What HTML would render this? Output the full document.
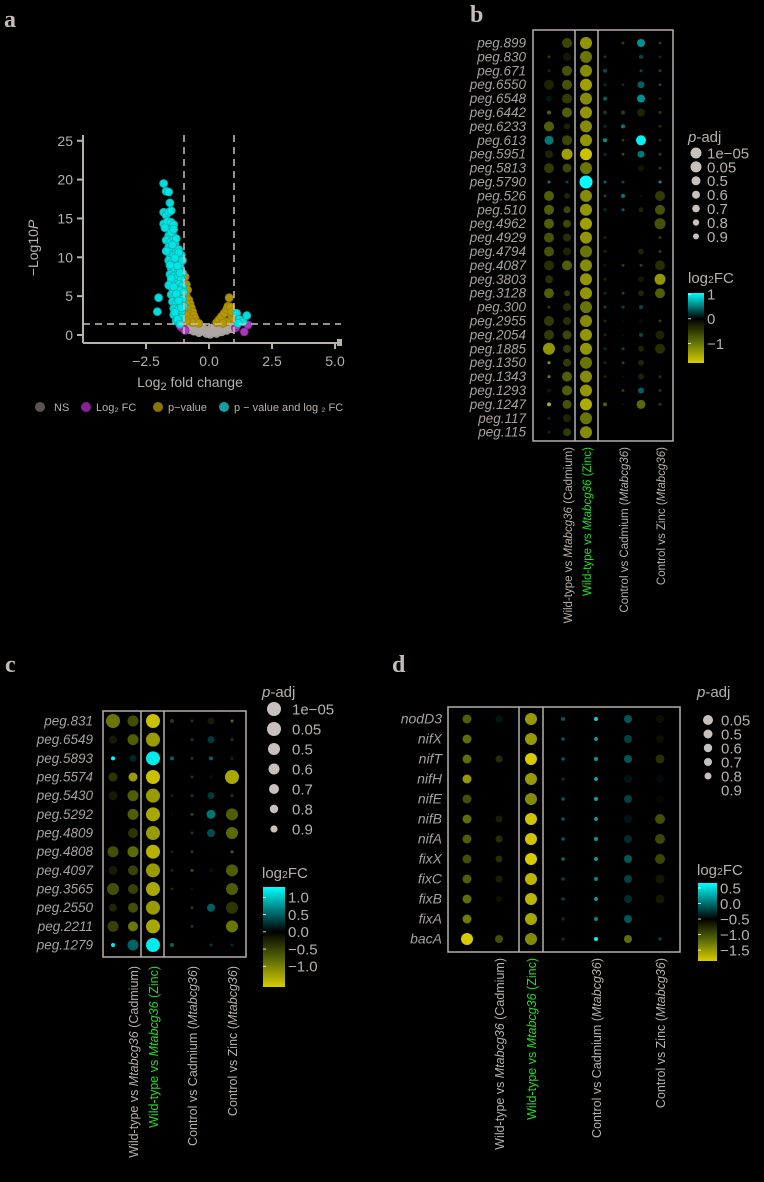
<!DOCTYPE html>
<html><head><meta charset="utf-8">
<style>
html,body{margin:0;padding:0;background:#000;}
svg{display:block;font-family:"Liberation Sans",sans-serif;}
</style></head>
<body>
<svg id="fig" width="764" height="1182" viewBox="0 0 764 1182" xmlns="http://www.w3.org/2000/svg">
<rect x="0" y="0" width="764" height="1182" fill="#000"/>
<text x="4" y="27" font-family="Liberation Serif,serif" font-weight="bold" font-size="24" fill="#c4bcb8">a</text>
<text x="470" y="22" font-family="Liberation Serif,serif" font-weight="bold" font-size="24" fill="#c4bcb8">b</text>
<text x="5" y="672" font-family="Liberation Serif,serif" font-weight="bold" font-size="24" fill="#c4bcb8">c</text>
<text x="392" y="672" font-family="Liberation Serif,serif" font-weight="bold" font-size="24" fill="#c4bcb8">d</text>
</svg>
<script>
// ---------- Volcano data (panel a) ----------
const volCyanX=[-1.8,-1.7,-1.6,-1.55,-1.8,-1.7,-1.6,-1.5,-1.8,-1.65,-1.5,-1.4,-1.55,-1.75,-1.45,-1.6,-1.7,-1.5,-1.35,-1.6,-1.45,-1.3,-1.55,-1.4,-1.25,-1.6,-1.45,-1.3,-1.15,-1.5,-1.35,-1.2,-1.05,-1.55,-1.4,-1.25,-1.1,-1.5,-1.35,-1.2,-1.05,-1.45,-1.3,-1.15,-1.0,-1.5,-1.35,-1.2,-1.05,-1.45,-1.3,-1.15,-1.0,-1.4,-1.25,-1.1,-1.4,-1.25,-1.1,-1.3,-1.15,-2.0,-2.05,1.1,1.2,1.35,1.5,1.15,-1.6,-1.55,-1.7,-1.4,-1.2,-1.1,-1.05,-1.5,-1.4,-1.3,-1.2,-1.45,-1.35,-1.25,-1.15,-1.5,-1.4,-1.3,-1.2,-1.1,-1.35,-1.25,-1.15];
const volCyanY=[19.5,18.5,18.4,17,15.8,15.4,15.8,16,14.3,14.6,14.5,14.2,13.5,13.8,13,12.8,12.2,12,11.8,11.3,11,10.8,10.3,10.2,10,9.6,9.4,9.2,9,8.6,8.5,8.3,8,7.8,7.6,7.4,7.2,6.9,6.7,6.5,6.3,6,5.9,5.7,5.5,5.2,5,4.8,4.6,4.3,4.1,3.9,3.7,3.4,3.2,3.0,2.6,2.4,2.2,1.8,1.6,4.8,3.0,2.8,2.0,1.7,2.5,1.5,6.4,9.0,10.8,12.5,11.0,10.3,9.6,13.2,13.6,12.4,10.6,11.6,9.9,8.9,8.0,7.3,6.2,5.3,4.4,3.5,2.9,2.0,1.4];
const volGoldX=[-0.95,-0.9,-0.85,-0.9,-0.8,-0.75,-0.9,-0.7,-0.85,-0.65,-0.8,-0.6,-0.9,-0.55,-0.75,-0.5,-0.65,-0.9,-0.4,0.3,0.4,0.5,0.6,0.7,0.75,0.85,0.8,0.9,0.95,0.7,0.55,0.9];
const volGoldY=[7.5,6.5,5.8,5,4.5,4,4,3.5,3.3,3,2.7,2.5,2.5,2.1,2,1.7,1.6,1.8,1.5,1.6,2,2.4,2.8,3.3,3.7,3.6,4.8,2.5,1.8,1.7,1.5,3];
const volGrayX=[-0.9,-0.7,-0.5,-0.3,-0.1,0,0.05,0.2,0.4,0.6,0.8,-0.6,-0.4,0.3,0.5,0.7,-0.8,-0.2,0.1,0.9,-0.35,0.25];
const volGrayY=[1.1,1.0,0.8,0.5,0.2,0.5,0.1,0.4,0.7,0.9,1.1,0.5,0.3,0.2,0.4,0.6,0.7,0.8,0.9,0.8,1.1,1.0];
const volMagX=[-1.1,-1.0,-0.95,-1.15,1.05,1.4,1.55,1.1];
const volMagY=[1.0,0.8,0.6,1.2,0.9,0.4,1.3,1.2];
const volXTicks=[-2.5,0.0,2.5,5.0];
const volYTicks=[0,5,10,15,20,25];

// ---------- Panel b ----------
const bRows=["peg.899","peg.830","peg.671","peg.6550","peg.6548","peg.6442","peg.6233","peg.613","peg.5951","peg.5813","peg.5790","peg.526","peg.510","peg.4962","peg.4929","peg.4794","peg.4087","peg.3803","peg.3128","peg.300","peg.2955","peg.2054","peg.1885","peg.1350","peg.1343","peg.1293","peg.1247","peg.117","peg.115"];
const bFC=[[0,-0.6,-1.3,0,-0.5,0.6,-0.5],[-0.5,-0.2,-1.0,-0.4,0,0.3,-0.3],[-0.3,-0.7,-1.2,0.3,0,0.3,-0.5],[-0.3,-0.7,-1.4,0.2,-0.3,0.4,-0.5],[0.1,-0.5,-1.2,0.4,0,0.6,-0.3],[-0.8,-0.8,-1.3,-0.4,-0.5,-0.3,-0.5],[-0.8,-0.3,-1.2,0.2,0.5,0,-0.4],[0.5,-0.6,-1.3,0.6,-0.5,1.0,-0.4],[-0.3,-1.4,-1.7,0.2,-0.6,0.5,-0.5],[-0.5,-0.6,-1.0,0,0,-0.2,-0.5],[0.5,0.3,1.1,0.4,0.3,0,0.6],[-0.8,-0.3,-1.2,0.3,0.5,-0.2,-0.5],[-0.8,-0.6,-1.3,0.2,0.4,-0.3,-0.7],[-0.8,-0.6,-1.4,0,0,0,-0.7],[-0.7,-0.4,-1.3,-0.3,0,0,-0.5],[-0.7,-0.3,-1.0,-0.3,0,-0.3,-0.5],[-0.4,-0.8,-1.2,-0.2,-0.5,0.3,-0.4],[-0.4,0,-1.3,-0.3,0,-0.2,-1.3],[-0.8,-0.5,-1.3,0.2,0.3,-0.3,-0.8],[-0.5,-0.4,-1.0,0.3,0.3,0.3,0],[-0.5,-0.4,-1.2,-0.3,-0.1,-0.1,-0.5],[-0.5,-0.6,-1.3,-0.3,-0.2,0.3,-0.3],[-1.3,-0.5,-1.3,0.2,0.3,-0.3,-0.4],[-1.3,-0.5,-1.0,-0.3,0.3,-0.3,0],[-1.1,-0.8,-1.2,-0.3,-0.2,-0.3,-0.4],[-0.2,-0.8,-1.3,-0.1,-0.5,0.4,-0.4],[-1.5,-0.7,-1.5,-0.8,-0.2,-0.9,-0.5],[-0.3,-0.3,-1.0,0,0,0,0],[-0.3,-0.5,-1.2,0,0,0,0]];
const bSize=[[2,5,6,1.5,1.5,4,1.5],[1.5,4,6,1.5,1,2,1.5],[1.5,5,6,2,1,1.5,1.5],[5,5,6,1.5,1.5,3.5,1.5],[3,5,6,2,1,4,1.5],[2,5,6,2,2,4,1.5],[5,3,6,1.5,2,1,1.5],[4.5,5,6,2,1.5,5,1.5],[4,5.5,6,1.5,1.5,3.5,1.5],[5,4.5,6,1.5,1.5,3,1.5],[1.5,1.5,6.5,1.5,1.5,1,1.5],[5,3,6,1.5,2,1,5],[5,3.5,6,1.5,1.5,2.5,5],[5,4,6,1,1,2,5.5],[5,4,6,1.5,1,1,1.5],[5,4,6,1.5,1,3,1.5],[5,5,6,1.5,1.5,1.5,5],[4,1,6,1.5,1,3,5.5],[5,3,6,1.5,1.5,3,5],[1.5,4,6,1.5,1.5,2,1],[5,4,6,1.5,1,2,1.5],[5,4.5,6,1.5,1,2,4.5],[6,4,6,1.5,1.5,3,5],[1.5,4,6,1.5,1.5,3,1],[1.5,5,6,1.5,1,3,1.5],[2,5,6,1,1.5,3,1.5],[2,4.5,6,2,1,4.5,1.5],[1.5,4,6,1,1,1,1],[1.5,4,6,1,1,1,1]];
const bSizeLegend=["1e\u221205","0.05","0.5","0.6","0.7","0.8","0.9"];
const bColorTicks=[1,0,-1];

// ---------- Panel c ----------
const cRows=["peg.831","peg.6549","peg.5893","peg.5574","peg.5430","peg.5292","peg.4809","peg.4808","peg.4097","peg.3565","peg.2550","peg.2211","peg.1279"];
const cFC=[[-0.9,-0.6,-1.5,-0.4,-0.4,-0.2,-0.8],[-0.2,-0.7,-1.2,0,-0.4,0.3,-0.4],[1.3,0.2,1.2,0.5,-0.4,0.5,0.2],[-0.4,-1.2,-1.5,0,-0.4,-0.1,-1.3],[-0.2,-0.7,-1.2,-0.2,-0.4,0.3,-0.4],[0,-0.7,-1.3,0.1,-0.5,0.6,-0.7],[0,-0.4,-1.2,0,-0.4,0.4,-0.8],[-0.6,-0.8,-1.4,-0.2,-0.4,0,-0.7],[-0.2,-0.5,-1.2,-0.3,-0.6,0.1,-0.7],[-0.6,-0.5,-1.3,-0.3,-0.2,0,-0.7],[-0.3,-0.6,-1.2,0,-0.4,0.5,-0.4],[-0.5,-0.9,-1.3,0,-0.4,0,-0.9],[1.2,0.5,1.2,0.5,0,0.3,0.2]];
const cSize=[[7,5.5,7,2,1.5,3.5,1.5],[4,5.5,7,1,1.5,3.5,1.5],[2,3.5,7,2,1.5,2,1.5],[4.5,4.5,7,1,1.5,2,7],[4.5,5.5,7,1.5,1.5,3.5,1.5],[0,5.5,7,1,1.5,4.5,6],[0,5,7,1,1.5,4,6],[5.5,5.5,7,1.5,1.5,1.5,1.5],[4.5,5,7,1.5,1.5,2,6],[6,5,7,1.5,1,1,6],[4,5,7,1,1.5,4,6],[5.5,5,7,1,1.5,1,6],[2,5.5,7,2,1,1.5,1.5]];
const cSizeLegend=["1e\u221205","0.05","0.5","0.6","0.7","0.8","0.9"];
const cColorTicks=[1.0,0.5,0.0,-0.5,-1.0];

// ---------- Panel d ----------
const dRows=["nodD3","nifX","nifT","nifH","nifE","nifB","nifA","fixX","fixC","fixB","fixA","bacA"];
const dFC=[[-1.1,-0.4,-1.5,-0.1,0.45,-0.1,-0.6],[-1.2,-0.5,-1.5,-0.1,0.2,-0.2,-0.6],[-1.2,-0.8,-1.85,-0.1,0.2,-0.1,-0.8],[-1.5,-0.5,-1.5,-0.3,0.25,-0.4,-0.45],[-1.0,-0.5,-1.4,-0.1,0.25,-0.2,-0.55],[-1.2,-0.7,-1.8,-0.1,0.2,-0.4,-1.0],[-1.1,-0.8,-1.8,-0.1,0.2,-0.3,-0.95],[-1.0,-0.8,-1.85,0,0.2,-0.1,-0.95],[-1.1,-0.7,-1.7,-0.2,0.1,-0.2,-0.65],[-1.2,-0.6,-1.7,-0.2,0.2,-0.3,-0.65],[-1.3,-0.5,-1.6,-0.3,0.1,-0.1,-0.5],[-2.2,-1.0,-1.4,-0.3,0.6,-1.2,-0.2]];
const dSize=[[4.5,3.5,6,2,2,4,4],[4.5,0,6,1.8,2,4,4],[4.5,3.5,6,1.8,2,4,4.5],[4.5,0,6,1.8,2,4,4],[4.5,0,6,1.8,2,4,4],[4.5,3.5,6,1.8,2,4,5],[4.5,3.5,6,1.8,2,4,5],[4.5,3.5,6,1.8,2,4,5],[4.5,3.5,6,1.8,2,4,4.5],[4.5,3,6,1.8,2,4,4.5],[4.5,3,6,1.8,2,4,0],[6,4,6,1.8,2,4,1.8]];
const dSizeLegend=["0.05","0.5","0.6","0.7","0.8","0.9"];
const dColorTicks=[0.5,0.0,-0.5,-1.0,-1.5];

const colLabels=[["Wild-type ",["vs ",false],["Mtabcg36",true],[" (Cadmium)",false]],["Wild-type vs ",["Mtabcg36",true],[" (Zinc)",false]],["Control vs Cadmium (",["Mtabcg36",true],[")",false]],["Control vs Zinc (",["Mtabcg36",true],[")",false]]];

const NS="http://www.w3.org/2000/svg";
const svg=document.getElementById('fig');
const AX="#b8b0ac";
function mk(tag,attrs,parent){const e=document.createElementNS(NS,tag);for(const k in attrs)e.setAttribute(k,attrs[k]);(parent||svg).appendChild(e);return e;}
function hex(c){return [parseInt(c.substr(1,2),16),parseInt(c.substr(3,2),16),parseInt(c.substr(5,2),16)];}
function mix(a,b,t){const m=a.map((x,i)=>Math.round(x+(b[i]-x)*t));return `rgb(${m[0]},${m[1]},${m[2]})`;}
const CY=hex("#00ffff"),BK=hex("#000000"),OL=hex("#5a6a06"),YE=hex("#d8cc00");
function colorOf(v,lo,mid,hi){
  if(v>=mid){const t=Math.min(1,(v-mid)/(hi-mid));return mix(BK,CY,t);}
  const t=Math.min(1,(mid-v)/(mid-lo));
  if(t<0.5)return mix(BK,OL,t*2);
  return mix(OL,YE,(t-0.5)*2);
}

// ================= Panel a volcano =================
const xS=v=>209+v*25.2, yS=v=>335-v*7.77;
let e;
e=mk('line',{x1:83,y1:135,x2:83,y2:343,stroke:AX,'stroke-width':2});


e=mk('line',{x1:83,y1:343,x2:341,y2:343,stroke:AX,'stroke-width':2});


volYTicks.forEach(t=>{
  e=mk('line',{x1:77,y1:yS(t),x2:83,y2:yS(t),stroke:AX,'stroke-width':2});
  
  
  e=mk('text',{x:73,y:yS(t)+5,'text-anchor':'end','font-size':14,fill:AX});
  e.textContent=t;
  
  
});
volXTicks.forEach(t=>{
  e=mk('line',{x1:xS(t),y1:343,x2:xS(t),y2:349,stroke:AX,'stroke-width':2});
  
  
  e=mk('text',{x:xS(t),y:366,'text-anchor':'middle','font-size':14,fill:AX});
  e.textContent=t.toFixed(1).replace('-','\u2212');
  
  
});
e=mk('text',{x:190,y:387,'text-anchor':'middle','font-size':14,fill:AX});
e.innerHTML='Log<tspan font-size="11" dy="3">2</tspan><tspan dy="-3"> fold change</tspan>';


e=mk('text',{x:0,y:0,'text-anchor':'middle','font-size':14,fill:AX,transform:'translate(38,248) rotate(-90)'});
e.innerHTML='\u2212Log10<tspan font-style="italic">P</tspan>';


function pts(xs,ys,fill,stroke,name){xs.forEach((x,i)=>{
  e=mk('circle',{cx:xS(x),cy:yS(ys[i]),r:4,fill:fill,stroke:stroke,'stroke-width':0.8,opacity:0.95});
  
  
});}
pts(volGrayX,volGrayY,"#b0a8a6","#b0a8a6",'point-ns');
pts(volMagX,volMagY,"#b43cc8","#8a2098",'point-log2fc');
pts(volGoldX,volGoldY,"#b89a00","#9a8000",'point-pvalue');
pts(volCyanX,volCyanY,"#00e8e8","#18a8a8",'point-pvalue-and-log2fc');
[[184,135,184,343],[234,135,234,343],[83,324,341,324]].forEach(l=>{
  e=mk('line',{x1:l[0],y1:l[1],x2:l[2],y2:l[3],stroke:"#c8c0bc",'stroke-width':1.5,'stroke-dasharray':'7,5'});
  
  
});
e=mk('rect',{x:337,y:339,width:5,height:7,fill:AX});


[[40,"#5a5452","NS"],[86,"#8a2098","Log\u2082 FC"],[158,"#8a7400","p\u2212value"],[224,"#10a0a0","p \u2212 value and log \u2082 FC"]].forEach(g=>{
  e=mk('circle',{cx:g[0],cy:407,r:5,fill:g[1]});
  
  
  e=mk('text',{x:g[0]+(g[2]=="NS"?14:10),y:411,'font-size':11,fill:AX});
  e.textContent=g[2];
  
  
});

// ================= Dot plots =================
function drawCols(cfg){
  cfg.labelCols.forEach((ci,k)=>{
    const x=cfg.colX[ci]+5;
    e=mk('text',{x:0,y:0,'text-anchor':'end','font-size':cfg.lfs,fill:k==1?"#1ee01e":AX,transform:`translate(${x},${cfg.labelTop}) rotate(-90)`});
    const L=colLabels[k];let h='';
    L.forEach((p,j)=>{if(typeof p==='string')h+=p;else h+=p[1]?`<tspan font-style="italic">${p[0]}</tspan>`:p[0];});
    e.innerHTML=h;
    
    
  });
}
function dotPanel(cfg,rows,fc,sz,sizeLeg,cTicks){
  const b=cfg.box;
  rows.forEach((r,i)=>{
    const y=cfg.y0+i*cfg.step;
    e=mk('text',{x:cfg.labelX,y:y+4.5,'text-anchor':'end','font-size':cfg.rfs,'font-style':'italic',fill:"#a8a09e"});
    e.textContent=r;
    
    
    fc[i].forEach((v,j)=>{
      const rr=sz[i][j]*cfg.rs;if(rr<=0)return;
      e=mk('circle',{cx:cfg.colX[j],cy:y,r:rr,fill:colorOf(v,cfg.lo,cfg.mid,cfg.hi)});
      
      
    });
  });
  e=mk('rect',{x:b[0],y:b[1],width:b[2]-b[0],height:b[3]-b[1],fill:'none',stroke:AX,'stroke-width':1.5});
  
  
  cfg.seps.forEach(sx=>{
    e=mk('line',{x1:sx,y1:b[1],x2:sx,y2:b[3],stroke:AX,'stroke-width':1.5});
    
    
  });
  drawCols(cfg);
  const L=cfg.leg;
  e=mk('text',{x:L.x,y:L.ty,'font-size':L.fs,fill:AX});
  e.innerHTML='<tspan font-style="italic">p</tspan>-adj';
  
  
  sizeLeg.forEach((s,i)=>{
    const y=L.sy0+i*L.sstep;
    const rr=L.sr[i];
    if(rr>0){
      e=mk('circle',{cx:L.cx,cy:y,r:rr,fill:"#c8c0bc"});
      
      
    }
    e=mk('text',{x:L.tx,y:y+L.fs*0.36,'font-size':L.fs,fill:AX});
    e.textContent=s;
    
    
  });
  e=mk('text',{x:L.x,y:L.cty,'font-size':L.fs,fill:AX});
  e.innerHTML='log<tspan font-size="'+(L.fs*0.7)+'">2</tspan>FC';
  
  
  const gid='g'+cfg.id;
  const defs=mk('defs',{});
  const g=mk('linearGradient',{id:gid,x1:0,y1:0,x2:0,y2:1},defs);
  const span=cfg.hi-cfg.lo;
  [[cfg.hi,'#00ffff'],[cfg.mid,'#000000'],[(cfg.mid+cfg.lo)/2,'#5a6a06'],[cfg.lo,'#d8cc00']].forEach(s=>{mk('stop',{offset:((cfg.hi-s[0])/span).toFixed(3),'stop-color':s[1]},g);});
  e=mk('rect',{x:L.bx,y:L.by0,width:L.bw,height:L.by1-L.by0,fill:`url(#${gid})`});
  
  
  const cy=v=>L.by0+(cfg.hi-v)/span*(L.by1-L.by0);
  cTicks.forEach(t=>{
    e=mk('line',{x1:L.bx,y1:cy(t),x2:L.bx+3,y2:cy(t),stroke:'#fff','stroke-width':0.8});
    
    
    e=mk('text',{x:L.bx+L.bw+3,y:cy(t)+L.fs*0.36,'font-size':L.fs,fill:AX});
    e.textContent=(cfg.id=='b'?String(t):t.toFixed(1)).replace('-','\u2212');
    
    
  });
}
dotPanel({id:'b',box:[533,30,673,441],seps:[575,598],colX:[549,567,586,605,623,641,660],y0:43,step:13.9,labelX:526,rfs:13.5,rs:1,
  lo:-1.8,mid:0,hi:1.05,labelCols:[1,2,4,6],labelTop:447,lfs:11.5,
  leg:{x:688,ty:142,fs:15,cx:696,tx:707,sy0:153,sstep:13.9,sr:[5.5,5.5,4.5,4,3.8,3.2,3],cty:283,bx:688,bw:16,by0:293,by1:363}},
  bRows,bFC,bSize,bSizeLegend,bColorTicks);
dotPanel({id:'c',box:[103,711,246,957],seps:[141,164],colX:[113,133,153,172,192,211,232],y0:721,step:18.67,labelX:93,rfs:13.5,rs:1,
  lo:-1.6,mid:0,hi:1.3,labelCols:[1,2,4,6],labelTop:966,lfs:12.5,
  leg:{x:262,ty:697,fs:15,cx:274,tx:292,sy0:709,sstep:20,sr:[7,7,6,5.5,5,4.2,3.6],cty:878,bx:263,bw:22,by0:887,by1:987}},
  cRows,cFC,cSize,cSizeLegend,cColorTicks);
dotPanel({id:'d',box:[448,707,680,952],seps:[519,543],colX:[467,499,531,563,596,628,660],y0:719,step:20,labelX:442,rfs:14,rs:1,
  lo:-1.85,mid:-0.5,hi:0.66,labelCols:[1,2,4,6],labelTop:958,lfs:12.5,
  leg:{x:697,ty:697,fs:15,cx:708,tx:721,sy0:720,sstep:14,sr:[5,4.5,4.2,4,3.5,0],cty:875,bx:698,bw:19,by0:883,by1:961}},
  dRows,dFC,dSize,dSizeLegend,dColorTicks);
</script>
</body></html>
